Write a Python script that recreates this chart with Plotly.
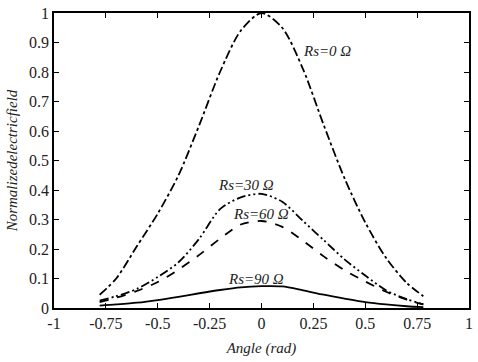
import plotly.graph_objects as go

angle = [-0.78, -0.7, -0.6, -0.5, -0.4, -0.3, -0.2, -0.1, 0.0, 0.1, 0.2, 0.3, 0.4, 0.5, 0.6, 0.7, 0.78]
rs0 = [0.045, 0.10, 0.21, 0.32, 0.45, 0.62, 0.80, 0.94, 1.00, 0.95, 0.81, 0.62, 0.44, 0.29, 0.17, 0.085, 0.04]
rs30 = [0.025, 0.04, 0.065, 0.105, 0.155, 0.235, 0.335, 0.375, 0.387, 0.36, 0.295, 0.23, 0.165, 0.11, 0.06, 0.03, 0.012]
rs60 = [0.02, 0.035, 0.058, 0.088, 0.13, 0.18, 0.235, 0.283, 0.295, 0.275, 0.228, 0.175, 0.128, 0.09, 0.055, 0.028, 0.012]
rs90 = [0.008, 0.012, 0.018, 0.027, 0.038, 0.05, 0.061, 0.07, 0.074, 0.073, 0.06, 0.045, 0.032, 0.02, 0.012, 0.006, 0.003]

x_ticks = [-1, -0.75, -0.5, -0.25, 0, 0.25, 0.5, 0.75, 1]
x_labels = ["-1", "-0.75", "-0.5", "-0.25", "0", "0.25", "0.5", "0.75", "1"]
y_ticks = [0, 0.1, 0.2, 0.3, 0.4, 0.5, 0.6, 0.7, 0.8, 0.9, 1]
y_labels = ["0", "0.1", "0.2", "0.3", "0.4", "0.5", "0.6", "0.7", "0.8", "0.9", "1"]

labels = ["Rs=0 Ω", "Rs=30 Ω", "Rs=60 Ω", "Rs=90 Ω"]
label_x = [0.19, -0.217, -0.146, -0.17]
label_y = [0.872, 0.416, 0.319, 0.10]

FONT = "Times New Roman"
TXT = "#222222"

fig = go.Figure()
styles = [
    (rs0, "dashdot"),
    (rs30, "9px,3px,2px,3px,2px,3px"),
    (rs60, "dash"),
    (rs90, "solid"),
]
for ys, dash in styles:
    fig.add_trace(go.Scatter(
        x=angle, y=ys, mode="lines",
        line=dict(color="black", width=1.8, dash=dash, shape="spline", smoothing=0.8),
        showlegend=False, hoverinfo="skip",
    ))

for t, lx, ly in zip(labels, label_x, label_y):
    fig.add_annotation(x=lx, y=ly, text="<i>" + t + "</i>", showarrow=False,
                       font=dict(family=FONT, size=15, color=TXT),
                       xanchor="left", yanchor="middle")

fig.update_layout(
    width=478, height=362,
    margin=dict(l=54, r=5, t=10, b=54),
    paper_bgcolor="white", plot_bgcolor="white",
    font=dict(family=FONT, size=15, color=TXT),
    xaxis=dict(
        range=[-1, 1], tickvals=x_ticks, ticktext=x_labels,
        tickfont=dict(family=FONT, size=16, color=TXT),
        showgrid=False, zeroline=False, showline=True, linecolor="black", linewidth=1.5,
        mirror="ticks", ticks="inside", ticklen=5, tickcolor="black",
        title=dict(text="<i>Angle (rad)</i>", font=dict(family=FONT, size=15, color=TXT), standoff=12),
    ),
    yaxis=dict(
        range=[0, 1], tickvals=y_ticks, ticktext=y_labels,
        tickfont=dict(family=FONT, size=16, color=TXT),
        showgrid=False, zeroline=False, showline=True, linecolor="black", linewidth=1.5,
        mirror="ticks", ticks="inside", ticklen=5, tickcolor="black",
        title=dict(text="<i>Normalizedelectricfield</i>", font=dict(family=FONT, size=15, color=TXT), standoff=8),
    ),
)

fig.write_html("out.html")
